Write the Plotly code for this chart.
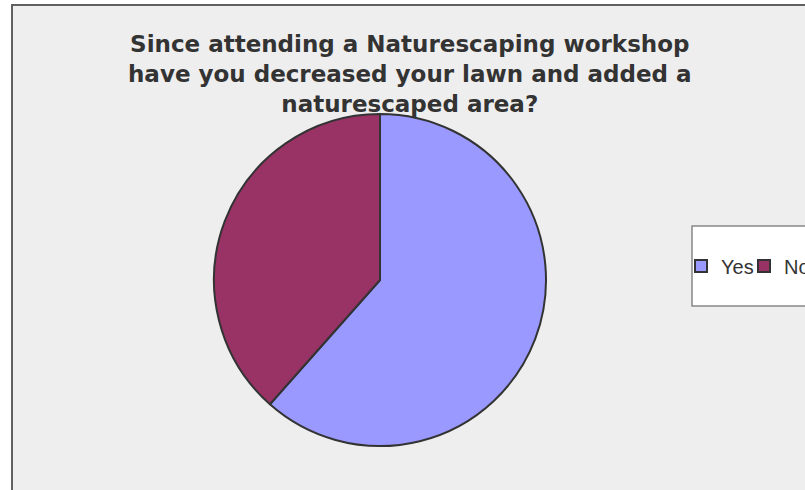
import plotly.graph_objects as go

# survey answers (counts)
answers = ["Yes", "No"]
counts = [8, 5]
slice_colors = ["#9999FF", "#993366"]

title_lines = [
    "Since attending a Naturescaping workshop",
    "have you decreased your lawn and added a",
    "naturescaped area?",
]

W, H = 805, 490

fig = go.Figure()

fig.add_trace(
    go.Pie(labels=answers, values=counts, sort=False, direction="clockwise",
           rotation=0, textinfo="none", hoverinfo="label+value+percent",
           marker=dict(colors=slice_colors, line=dict(color="#333333", width=2)),
           domain=dict(x=[214 / W, 546 / W], y=[(H - 446) / H, (H - 114) / H]))
)

# chart area frame (runs past the right and bottom edges) and legend box
fig.add_shape(type="rect", xref="paper", yref="paper", layer="below",
              x0=12 / W, x1=1.05, y0=-0.05, y1=1 - 5 / H,
              fillcolor="#EEEEEE", line=dict(color="#606060", width=2))
fig.add_shape(type="rect", xref="paper", yref="paper", layer="below",
              x0=692 / W, x1=1.05, y0=1 - 306 / H, y1=1 - 226 / H,
              fillcolor="white", line=dict(color="#888888", width=1.5))

fig.add_annotation(text="<br>".join(title_lines), xref="paper", yref="paper",
                   x=410 / W, y=1 - 29 / H, xanchor="center", yanchor="top",
                   showarrow=False,
                   font=dict(family="DejaVu Sans", size=23, color="#333333",
                             weight="bold"),
                   align="center")

fig.update_layout(
    width=W, height=H,
    margin=dict(l=0, r=0, t=0, b=0, autoexpand=False),
    paper_bgcolor="white",
    plot_bgcolor="white",
    showlegend=True,
    legend=dict(orientation="h", x=681 / W, y=1 - 266 / H,
                xanchor="left", yanchor="middle",
                entrywidth=18, entrywidthmode="pixels",
                bgcolor="rgba(0,0,0,0)", borderwidth=0,
                font=dict(family="Liberation Sans", size=20, color="#333333")),
)

# drop the browser's default 8px body margin so the figure sits at 0,0
fig.write_html("out.html", config={"displayModeBar": False},
               post_script="document.body.style.margin='0';")
